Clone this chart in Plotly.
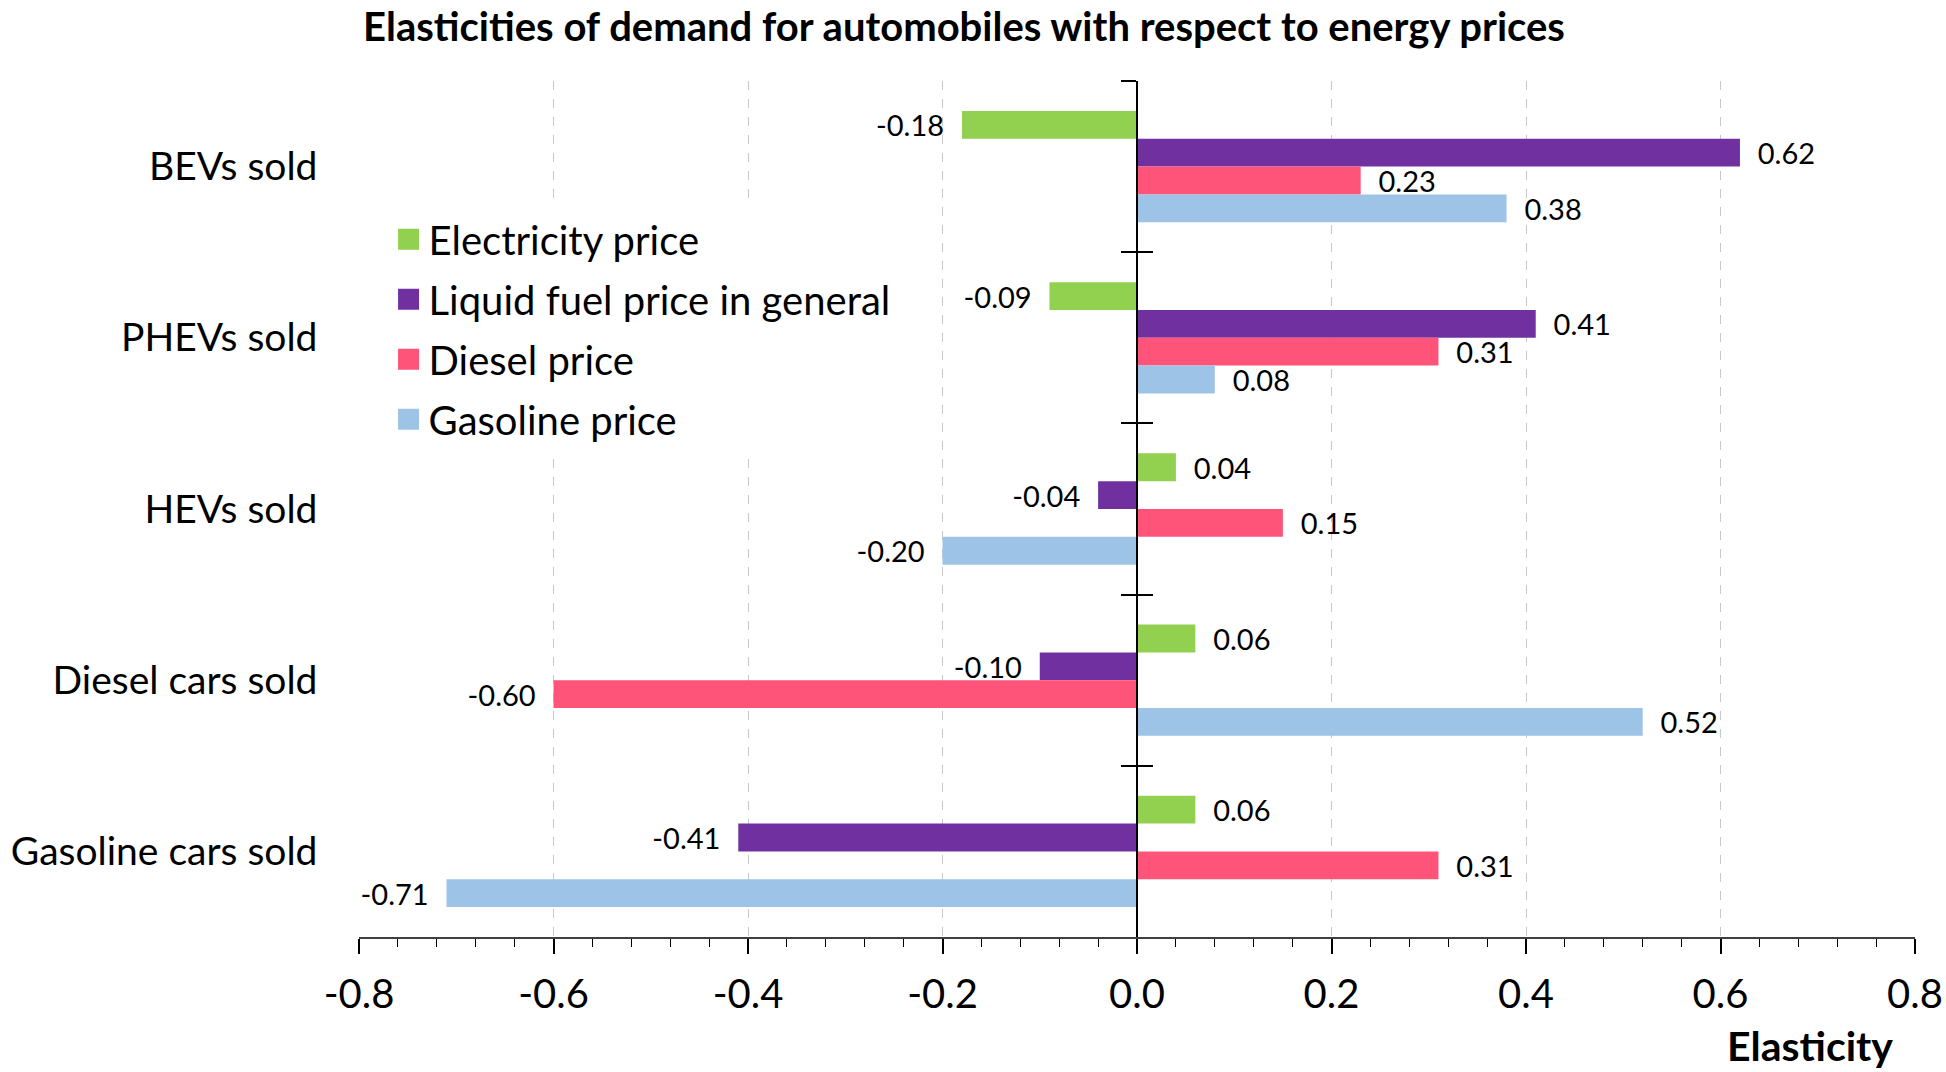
import plotly.graph_objects as go

# ---- data ----
categories = ["BEVs sold", "PHEVs sold", "HEVs sold", "Diesel cars sold", "Gasoline cars sold"]
series_names = ["Electricity price", "Liquid fuel price in general", "Diesel price", "Gasoline price"]
electricity = [-0.18, -0.09, 0.04, 0.06, 0.06]
liquid_fuel = [0.62, 0.41, -0.04, -0.10, -0.41]
diesel = [0.23, 0.31, 0.15, -0.60, 0.31]
gasoline = [0.38, 0.08, -0.20, 0.52, -0.71]
series_colors = ["#92D050", "#7030A0", "#FF5479", "#9DC3E6"]
x_tick_vals = [-0.8, -0.6, -0.4, -0.2, 0.0, 0.2, 0.4, 0.6, 0.8]
x_tick_text = ["-0.8", "-0.6", "-0.4", "-0.2", "0.0", "0.2", "0.4", "0.6", "0.8"]
title_text = "Elasticities of demand for automobiles with respect to energy prices"
x_title = "Elasticity"

FONT = "Lato"
PAD = "\u00a0" * 2
FIG_W, FIG_H = 1946, 1072


def labels(vals):
    return [(f"{v:.2f}" + PAD) if v < 0 else (PAD + f"{v:.2f}") for v in vals]


fig = go.Figure()
all_series = [electricity, liquid_fuel, diesel, gasoline]
for name, vals, col in zip(series_names, all_series, series_colors):
    fig.add_trace(go.Bar(
        y=categories, x=vals, orientation="h", name=name,
        marker=dict(color=col, line=dict(width=0)),
        text=labels(vals), textposition="outside", constraintext="none",
        textfont=dict(family=FONT, size=29, color="#000000"),
        cliponaxis=False, showlegend=False,
    ))

# legend entries
for i, (name, col) in enumerate(zip(series_names, series_colors)):
    fig.add_trace(go.Scatter(
        x=[None], y=[None], mode="markers", name=name,
        marker=dict(symbol="square", size=22, color=col, line=dict(width=5, color=col)),
        legendgroup=f"g{i}", showlegend=True, hoverinfo="skip",
    ))

# helper trace for the crossing ticks axis
fig.add_trace(go.Scatter(
    x=[None] * len(categories), y=categories, yaxis="y2", mode="markers",
    showlegend=False, hoverinfo="skip", marker=dict(opacity=0),
))

fig.update_layout(
    width=FIG_W, height=FIG_H, autosize=False,
    margin=dict(l=359, r=31, t=81, b=135, autoexpand=False),
    paper_bgcolor="white", plot_bgcolor="white",
    barmode="group", bargap=0.35, bargroupgap=0,
    font=dict(family=FONT, color="#000000"),
    title=dict(text=title_text, x=964 / FIG_W, xref="container", xanchor="center",
               y=1 - 27 / FIG_H, yref="container", yanchor="middle",
               font=dict(family=FONT, size=40, weight="bold", color="#000000")),
    xaxis=dict(
        range=[-0.8, 0.8], tickvals=x_tick_vals, ticktext=x_tick_text,
        showgrid=True, gridcolor="#C8C8C8", griddash="dash", gridwidth=1,
        zeroline=False, showline=True, linecolor="#404040", linewidth=2,
        ticks="outside", ticklen=15, tickwidth=1.5, tickcolor="#000000",
        minor=dict(dtick=0.04, ticks="outside", ticklen=8, tickwidth=1, tickcolor="#000000", showgrid=False),
        tickfont=dict(family=FONT, size=40, color="#000000"),
        ticklabelstandoff=6, ticklabeloverflow="allow", automargin=False,
    ),
    yaxis=dict(
        autorange="reversed", anchor="free", position=0.5,
        showline=True, linecolor="#000000", linewidth=1.5,
        ticks="outside", ticklen=15, tickwidth=1.5, tickcolor="#000000",
        tickson="boundaries", showgrid=False, zeroline=False,
        tickfont=dict(family=FONT, size=39, color="#000000"),
        ticklabelstandoff=811, automargin=False,
    ),
    yaxis2=dict(
        overlaying="y", matches="y", anchor="free", position=0.5,
        autorange="reversed", showline=False, automargin=False,
        ticks="inside", ticklen=15, tickwidth=1.5, tickcolor="#000000",
        tickson="boundaries", showgrid=False, zeroline=False, showticklabels=False,
    ),
    legend=dict(
        x=0.019, y=0.853, xanchor="left", yanchor="top",
        bgcolor="white", borderwidth=0,
        font=dict(family=FONT, size=40, color="#000000"),
        traceorder="grouped", tracegroupgap=5,
    ),
    annotations=[dict(
        text=x_title, xref="paper", yref="paper", x=0.987, y=-0.1262,
        xanchor="right", yanchor="middle", showarrow=False,
        font=dict(family=FONT, size=41, weight="bold", color="#000000"),
    )],
)

fig.write_html("out.html", config={"displayModeBar": False},
               post_script="document.body.style.margin='0px';")
